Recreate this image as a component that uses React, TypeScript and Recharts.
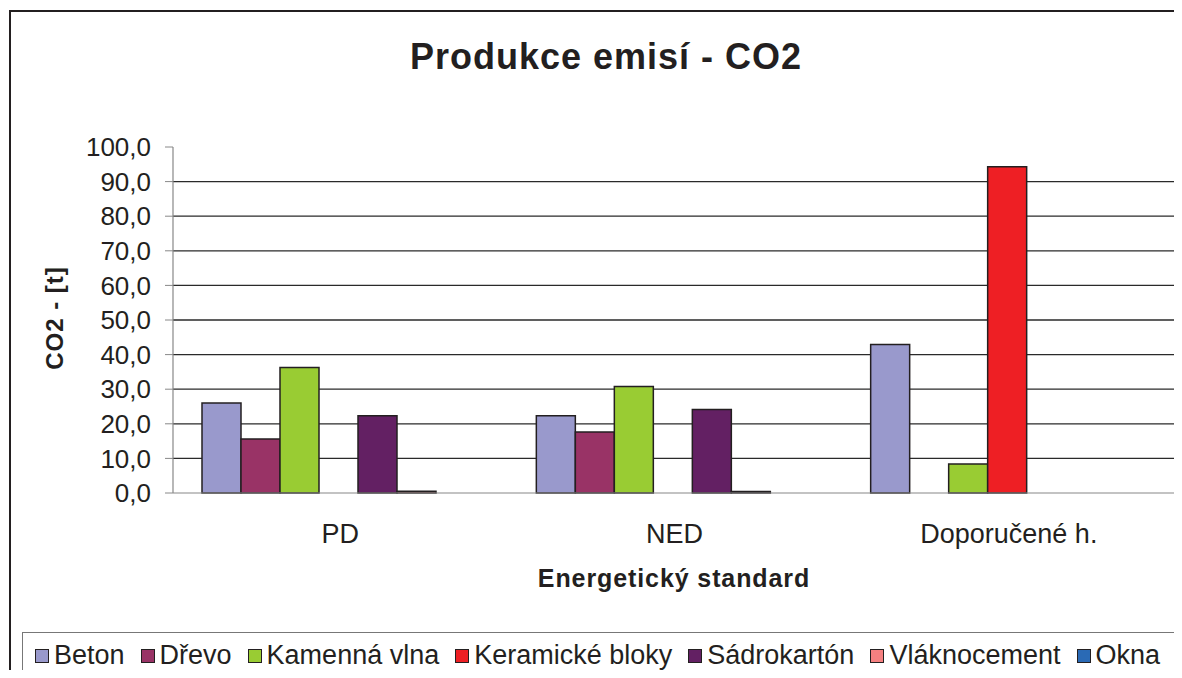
import { BarChart, Bar, XAxis, YAxis, CartesianGrid } from "recharts";

const categories = ["PD", "NED", "Doporučené h."];

const beton = [26.0, 22.3, 42.9];
const drevo = [15.6, 17.6, 0];
const kamennaVlna = [36.3, 30.8, 8.4];
const keramickeBloky = [0, 0, 94.3];
const sadrokarton = [22.3, 24.1, 0];
const vlaknocement = [0.5, 0.4, 0];
const okna = [0, 0, 0];

const yTicks = [0, 10, 20, 30, 40, 50, 60, 70, 80, 90, 100];
const gridValues = [10, 20, 30, 40, 50, 60, 70, 80, 90];
const edgeTicks = [0, 1, 2, 3];

const series = [
  { key: "beton", name: "Beton", color: "#9999cc", values: beton },
  { key: "drevo", name: "Dřevo", color: "#993366", values: drevo },
  { key: "kamenna", name: "Kamenná vlna", color: "#99cc33", values: kamennaVlna },
  { key: "keramicke", name: "Keramické bloky", color: "#ee1f24", values: keramickeBloky },
  { key: "sadrokarton", name: "Sádrokartón", color: "#632063", values: sadrokarton },
  { key: "vlakno", name: "Vláknocement", color: "#f58080", values: vlaknocement },
  { key: "okna", name: "Okna", color: "#2a6ab5", values: okna },
];

const data = categories.map((cat, i) => {
  const row: Record<string, string | number> = { cat };
  series.forEach((s) => (row[s.key] = s.values[i]));
  return row;
});

const FONT = "'Liberation Sans', Arial, sans-serif";
const INK = "#231f20";

const fmt = (v: number) => v.toFixed(1).replace(".", ",");

if (typeof document !== "undefined") {
  document.documentElement.style.overflow = "hidden";
  document.body.style.overflow = "hidden";
}

export default function App() {
  return (
    <div style={{ position: "relative", width: 1174, height: 662, overflow: "hidden", fontFamily: FONT }}>
      {/* frame: only top and left edges are visible in the source image */}
      <div style={{ position: "absolute", left: 1, top: 2, width: 1300, height: 2, background: INK }} />
      <div style={{ position: "absolute", left: 1, top: 2, width: 2, height: 700, background: INK }} />
      <div style={{ position: "absolute", left: 0, top: 0 }}>
        <BarChart
          width={1174}
          height={670}
          data={data}
          margin={{ top: 139, right: 6, left: 0, bottom: 125 }}
          barCategoryGap={29}
          barGap={0}
        >
          <CartesianGrid vertical={false} horizontalValues={gridValues} stroke="#2a2a2a" strokeWidth={1.3} />
          <XAxis
            xAxisId="edges"
            type="number"
            domain={[0, 3]}
            ticks={edgeTicks}
            tick={false}
            tickSize={8}
            axisLine={false}
            tickLine={{ stroke: "#888" }}
            height={0}
          />
          <XAxis
            dataKey="cat"
            height={60}
            tickSize={0}
            tickMargin={31}
            axisLine={{ stroke: "#888", strokeWidth: 1.2 }}
            tickLine={false}
            tick={{ fill: INK, fontSize: 27, fontFamily: FONT }}
          />
          <YAxis
            width={165}
            domain={[0, 100]}
            ticks={yTicks}
            interval={0}
            tickFormatter={fmt}
            tickSize={8}
            tickMargin={14}
            axisLine={{ stroke: "#888", strokeWidth: 1.2 }}
            tickLine={{ stroke: "#888" }}
            tick={{ fill: INK, fontSize: 26, fontFamily: FONT }}
          />
          {series.map((s) => (
            <Bar
              key={s.key}
              dataKey={s.key}
              name={s.name}
              fill={s.color}
              stroke="#231f20"
              strokeWidth={1.5}
              isAnimationActive={false}
            />
          ))}
        </BarChart>
      </div>
      <svg
        width={1174}
        height={662}
        style={{ position: "absolute", left: 0, top: 0, pointerEvents: "none" }}
      >
        <text x={598} y={61} textAnchor="middle" fontSize={36} fontWeight="bold" letterSpacing={1} fill={INK} fontFamily={FONT}>
          Produkce emisí - CO2
        </text>
        <text x={666} y={579} textAnchor="middle" fontSize={25} fontWeight="bold" letterSpacing={0.9} fill={INK} fontFamily={FONT}>
          Energetický standard
        </text>
        <text
          x={0}
          y={0}
          transform="translate(55, 310) rotate(-90)"
          textAnchor="middle"
          fontSize={24}
          fontWeight="bold"
          letterSpacing={1}
          fill={INK}
          fontFamily={FONT}
        >
          CO2 - [t]
        </text>
      </svg>
      <div
        style={{
          position: "absolute",
          left: 14,
          top: 624,
          width: 1155,
          height: 60,
          border: "1px solid #777",
          boxSizing: "border-box",
          display: "flex",
          alignItems: "flex-start",
          paddingTop: 7,
          paddingLeft: 12,
          color: INK,
          fontSize: 27,
        }}
      >
        {series.map((s) => (
          <div key={s.key} style={{ display: "flex", alignItems: "center", marginRight: 16, whiteSpace: "nowrap" }}>
            <span
              style={{
                display: "inline-block",
                width: 12,
                height: 12,
                background: s.color,
                border: "1.5px solid #231f20",
                marginRight: 5,
              }}
            />
            <span>{s.name}</span>
          </div>
        ))}
      </div>
    </div>
  );
}
